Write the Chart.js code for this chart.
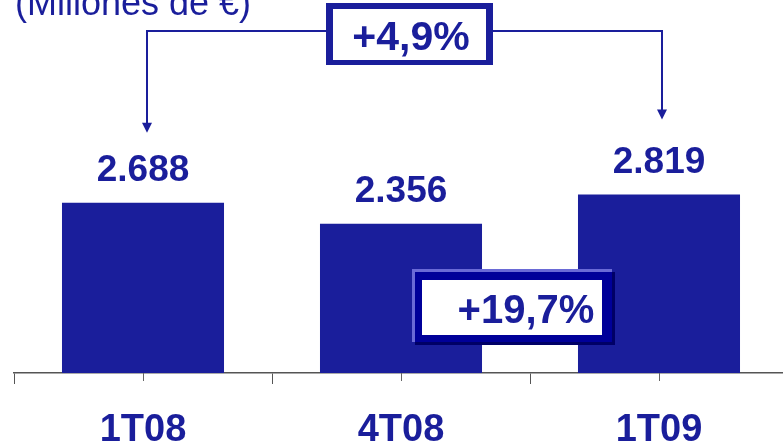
<!DOCTYPE html>
<html>
<head>
<meta charset="utf-8">
<script src="https://cdn.jsdelivr.net/npm/chart.js@4.4.0/dist/chart.umd.min.js"></script>
<style>
  html, body { margin: 0; padding: 0; background: #fff; overflow: hidden; }
  #wrap { width: 800px; height: 444px; }
</style>
</head>
<body>
<div id="wrap"><canvas id="chart" width="800" height="444"></canvas></div>
<script>
// data
const periods = ['1T08', '4T08', '1T09'];
const ingresos = [2688, 2356, 2819];
const valueLabels = ['2.688', '2.356', '2.819'];
const unitLabel = '(Millones de €)';
const changeYear = '+4,9%';     // 1T08 -> 1T09
const changeQuarter = '+19,7%'; // 4T08 -> 1T09

const BLUE = '#1a1e9b';
const DARK = '#000099';
const FONT = '"Liberation Sans", Arial, sans-serif';

// small tick marks under the middle of each bar
const midTicks = {
    id: 'midTicks',
    afterDraw(chart) {
        const ctx = chart.ctx;
        const x = chart.scales.x;
        const bottom = chart.chartArea.bottom;
        ctx.save();
        ctx.strokeStyle = '#666';
        ctx.lineWidth = 1;
        periods.forEach((p, i) => {
            const px = Math.round(x.getPixelForTick(i)) + 0.5;
            ctx.beginPath();
            ctx.moveTo(px, bottom);
            ctx.lineTo(px, bottom + 8);
            ctx.stroke();
        });
        ctx.restore();
    }
};

// value labels, unit text, bracket arrows and the two percentage boxes
const annotations = {
    id: 'annotations',
    afterDraw(chart) {
        const ctx = chart.ctx;
        const bars = chart.getDatasetMeta(0).data;
        ctx.save();

        // values above bars
        ctx.fillStyle = BLUE;
        ctx.font = 'bold 37px ' + FONT;
        ctx.textAlign = 'center';
        ctx.textBaseline = 'alphabetic';
        bars.forEach((b, i) => {
            ctx.fillText(valueLabels[i], b.x, b.y - 22);
        });

        // unit label, top left (partly cut off)
        ctx.font = '36px ' + FONT;
        ctx.textAlign = 'left';
        ctx.fillText(unitLabel, 15, 15);

        // bracket from 1T08 to 1T09
        const b0 = bars[0], b2 = bars[2];
        const lineY = 31;
        const lx = b0.x + 4, rx = b2.x + 3;
        const lTip = b0.y - 70, rTip = b2.y - 75;
        ctx.strokeStyle = BLUE;
        ctx.lineWidth = 2;
        ctx.beginPath();
        ctx.moveTo(lx, lTip - 8);
        ctx.lineTo(lx, lineY);
        ctx.lineTo(rx, lineY);
        ctx.lineTo(rx, rTip - 8);
        ctx.stroke();
        [[lx, lTip], [rx, rTip]].forEach(([ax, ay]) => {
            ctx.beginPath();
            ctx.moveTo(ax - 5, ay - 10);
            ctx.lineTo(ax + 5, ay - 10);
            ctx.lineTo(ax, ay);
            ctx.closePath();
            ctx.fill();
        });

        // box +4,9%
        ctx.fillStyle = BLUE;
        ctx.fillRect(326, 3, 167, 62);
        ctx.fillStyle = '#fff';
        ctx.fillRect(333, 9, 153, 51);
        ctx.fillStyle = BLUE;
        ctx.font = 'bold 41px ' + FONT;
        ctx.textAlign = 'center';
        ctx.fillText(changeYear, 411, 50);

        // box +19,7%
        ctx.fillStyle = '#000066';
        ctx.fillRect(415, 272, 200, 73);
        ctx.fillStyle = '#6a6ad6';
        ctx.fillRect(412, 269, 200, 73);
        ctx.fillStyle = DARK;
        ctx.fillRect(415, 272, 197, 70);
        ctx.fillStyle = '#fff';
        ctx.fillRect(422, 280, 180, 55);
        ctx.fillStyle = BLUE;
        ctx.font = 'bold 40px ' + FONT;
        ctx.fillText(changeQuarter, 526, 323);

        ctx.restore();
    }
};

new Chart(document.getElementById('chart'), {
    type: 'bar',
    data: {
        labels: periods,
        datasets: [{
            data: ingresos,
            backgroundColor: BLUE,
            borderWidth: 0,
            barPercentage: 0.628,
            categoryPercentage: 1
        }]
    },
    options: {
        responsive: false,
        devicePixelRatio: 1,
        animation: false,
        layout: { padding: { left: 14, right: 12, top: 56.5, bottom: 0 } },
        plugins: {
            legend: { display: false },
            tooltip: { enabled: false }
        },
        scales: {
            x: {
                offset: true,
                afterFit(scale) { scale.height = 71; },
                grid: {
                    offset: true,
                    drawOnChartArea: false,
                    drawTicks: true,
                    tickLength: 11,
                    color: '#555',
                    lineWidth: 1
                },
                border: { display: true, color: '#555', width: 1.5 },
                ticks: {
                    color: BLUE,
                    font: { family: FONT, size: 38, weight: 'bold', lineHeight: 1.2 },
                    padding: 24,
                    maxRotation: 0
                }
            },
            y: {
                display: false,
                min: 0,
                max: 5000
            }
        }
    },
    plugins: [midTicks, annotations]
});
</script>
</body>
</html>
